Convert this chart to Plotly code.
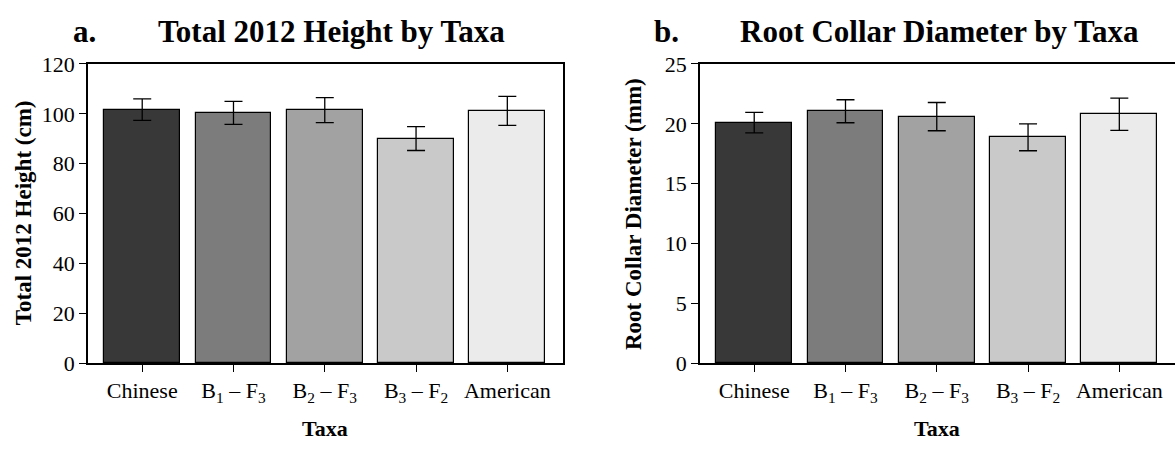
import plotly.graph_objects as go

# ---- data ----
taxa = ["Chinese", "B1 - F3", "B2 - F3", "B3 - F2", "American"]
tick_labels = ["Chinese", "B<sub>1</sub> – F<sub>3</sub>", "B<sub>2</sub> – F<sub>3</sub>",
               "B<sub>3</sub> – F<sub>2</sub>", "American"]
height_cm = [101.7, 100.4, 101.5, 90.1, 101.2]
height_err = [4.3, 4.6, 5.0, 4.8, 5.8]
rcd_mm = [20.1, 21.05, 20.6, 18.87, 20.8]
rcd_err = [0.85, 0.96, 1.18, 1.12, 1.35]
height_ticks = [0, 20, 40, 60, 80, 100, 120]
rcd_ticks = [0, 5, 10, 15, 20, 25]

bar_colors = ["#383838", "#7c7c7c", "#a2a2a2", "#c9c9c9", "#ebebeb"]
FONT = "Liberation Serif, Times New Roman, serif"
W, H = 1175, 450

xs = list(range(len(taxa)))

fig = go.Figure()
fig.add_trace(go.Bar(
    x=xs, y=height_cm, width=0.83, xaxis="x", yaxis="y",
    marker=dict(color=bar_colors, line=dict(color="black", width=1.2)),
    error_y=dict(type="data", array=height_err, color="black", thickness=1.3, width=9),
    hovertext=taxa, showlegend=False))
fig.add_trace(go.Bar(
    x=xs, y=rcd_mm, width=0.83, xaxis="x2", yaxis="y2",
    marker=dict(color=bar_colors, line=dict(color="black", width=1.2)),
    error_y=dict(type="data", array=rcd_err, color="black", thickness=1.3, width=9),
    hovertext=taxa, showlegend=False))

ydom = [(H - 372) / H, (H - 55) / H]
xr = [-0.594, 4.61]
axis_common = dict(showgrid=False, zeroline=False, showline=True, linecolor="black",
                   linewidth=1.5, ticks="outside", ticklen=7,
                   tickcolor="black", tickwidth=1.3,
                   tickfont=dict(family=FONT, size=22, color="black"))

fig.update_layout(
    width=W, height=H, margin=dict(l=0, r=0, t=0, b=0),
    paper_bgcolor="white", plot_bgcolor="white", bargap=0,
    xaxis=dict(domain=[88 / W, 563 / W], range=xr, tickvals=xs, ticktext=tick_labels,
               anchor="y", mirror=True, **axis_common),
    yaxis=dict(domain=ydom, range=[0, 120], tickvals=height_ticks, anchor="x",
               mirror=True, **axis_common),
    xaxis2=dict(domain=[700 / W, 1.0], range=xr, tickvals=xs, ticktext=tick_labels,
                anchor="y2", mirror=True, **axis_common),
    yaxis2=dict(domain=ydom, range=[0, 25], tickvals=rcd_ticks, anchor="x2",
                mirror=False, **axis_common),
)

def ann(text, x, y, size, bold=True, angle=0, xanchor="center", yanchor="middle"):
    fig.add_annotation(text=f"<b>{text}</b>" if bold else text, x=x / W, y=1 - y / H,
                       xref="paper", yref="paper", showarrow=False, textangle=angle,
                       xanchor=xanchor, yanchor=yanchor,
                       font=dict(family=FONT, size=size, color="black"))

# panel titles
ann("a.", 71, 21, 31, xanchor="left")
ann("Total 2012 Height by Taxa", 331, 21, 31)
ann("b.", 652, 21, 31, xanchor="left")
ann("Root Collar Diameter by Taxa", 939, 21, 31)
# axis titles
ann("Total 2012 Height (cm)", 23, 213, 23, angle=-90)
ann("Root Collar Diameter (mm)", 633, 214, 23, angle=-90)
ann("Taxa", 325, 441, 22)
ann("Taxa", 937, 441, 22)

fig.write_html("out.html",
               config={"displayModeBar": False},
               post_script="document.body.style.margin='0';"
                           "document.body.style.padding='0';"
                           "document.body.style.overflow='hidden';")
